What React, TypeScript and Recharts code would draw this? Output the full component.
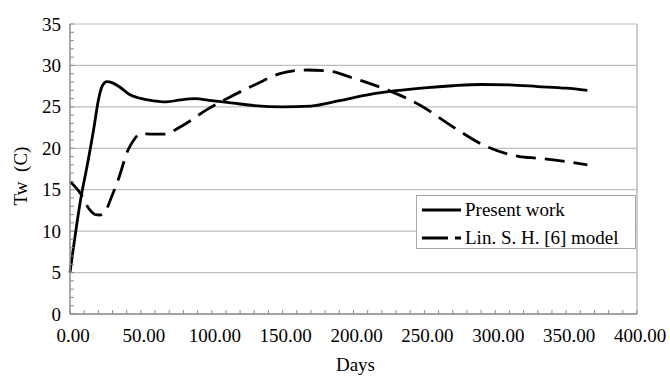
import React from "react";
import { LineChart, Line, XAxis, YAxis, ReferenceLine } from "recharts";

// Present work
const presentDays = [0, 8, 12, 17, 20, 23, 26, 30, 35, 42, 48, 55, 68, 78, 88, 100, 115, 130, 150, 170, 190, 210, 230, 250, 270, 290, 310, 330, 350, 365];
const presentTw = [5, 14.3, 17.8, 22.6, 25.8, 27.6, 28.05, 27.9, 27.4, 26.5, 26.1, 25.85, 25.6, 25.85, 26.0, 25.75, 25.45, 25.15, 25.0, 25.1, 25.75, 26.45, 26.95, 27.3, 27.55, 27.7, 27.65, 27.45, 27.25, 27.0];

// Lin. S. H. [6] model
const linDays = [0, 8, 13, 18, 21, 25, 29, 34, 41, 45, 50, 58, 66, 78, 96, 113, 132, 148, 167, 183, 200, 223, 247, 270, 294, 317, 330, 350, 365];
const linTw = [16, 14.4, 12.8, 12.0, 11.95, 12.4, 14.0, 16.2, 19.8, 21.0, 21.8, 21.7, 21.7, 22.6, 24.6, 26.2, 27.8, 29.0, 29.45, 29.3, 28.45, 27.1, 25.2, 22.6, 20.2, 19.0, 18.8, 18.4, 18.0];

const seriesNames = ["Present work", "Lin. S. H. [6] model"];

const xMinor = Array.from({ length: 41 }, (_, i) => i * 10);
const yMajor = [0, 5, 10, 15, 20, 25, 30, 35];
const yMinor = Array.from({ length: 36 }, (_, i) => i);

const present = presentDays.map((d, i) => ({ day: d, tw: presentTw[i] }));
const lin = linDays.map((d, i) => ({ day: d, tw: linTw[i] }));

const FONT = "'Liberation Serif', 'Times New Roman', serif";
const AXIS = "#8c8c8c";
const GRID = "#bdbdbd";

const XTick = (props: any) => {
  const { x, y, payload } = props;
  const v = payload.value;
  return (
    <g>
      <line x1={x} y1={y} x2={x} y2={y - 4} stroke={AXIS} strokeWidth={1} />
      {v % 50 === 0 && (
        <text x={x + 3} y={y + 28} textAnchor="middle" fontFamily={FONT} fontSize={19} fill="#000">
          {v.toFixed(2)}
        </text>
      )}
    </g>
  );
};

const YTick = (props: any) => {
  const { x, y, payload } = props;
  const v = payload.value;
  return (
    <g>
      <line x1={x} y1={y} x2={x + 4} y2={y} stroke={AXIS} strokeWidth={1} />
      {v % 5 === 0 && (
        <text x={x - 9} y={y + 6.5} textAnchor="end" fontFamily={FONT} fontSize={19} fill="#000">
          {v}
        </text>
      )}
    </g>
  );
};

export default function App() {
  return (
    <div style={{ position: "absolute", left: 0, top: 0, width: 670, height: 376, background: "#fff" }}>
      <LineChart width={670} height={376} margin={{ top: 24, right: 33, bottom: 0, left: 0 }}>
        {yMajor.map((v) => (
          <ReferenceLine key={v} y={v} stroke={GRID} strokeWidth={1.2} />
        ))}
        <ReferenceLine x={400} stroke={GRID} strokeWidth={1.5} />
        <XAxis
          dataKey="day"
          type="number"
          domain={[0, 400]}
          ticks={xMinor}
          interval={0}
          allowDuplicatedCategory={false}
          height={62}
          tickLine={false}
          tickSize={0}
          tickMargin={0}
          stroke={AXIS}
          strokeWidth={1.5}
          tick={<XTick />}
          label={(p: any) => (
            <text
              x={p.viewBox.x + p.viewBox.width / 2 + 2}
              y={371}
              textAnchor="middle"
              fontFamily={FONT}
              fontSize={19}
            >
              Days
            </text>
          )}
        />
        <YAxis
          type="number"
          domain={[0, 35]}
          ticks={yMinor}
          interval={0}
          width={70}
          tickLine={false}
          tickSize={0}
          tickMargin={0}
          stroke={AXIS}
          strokeWidth={1.5}
          tick={<YTick />}
          label={() => {
            const cy = 24 + 290 / 2 + 7;
            return (
              <text
                x={20}
                y={cy}
                transform={`rotate(-90 20 ${cy})`}
                textAnchor="middle"
                dominantBaseline="central"
                fontFamily={FONT}
                fontSize={19}
                style={{ whiteSpace: "pre" }}
              >
                {"Tw  (C)"}
              </text>
            );
          }}
        />
        <Line
          data={present}
          dataKey="tw"
          name={seriesNames[0]}
          type="monotone"
          stroke="#000"
          strokeWidth={2.8}
          dot={false}
          isAnimationActive={false}
        />
        <Line
          data={lin}
          dataKey="tw"
          name={seriesNames[1]}
          type="monotone"
          stroke="#000"
          strokeWidth={2.8}
          strokeDasharray="20 9"
          dot={false}
          isAnimationActive={false}
        />
      </LineChart>
      <div
        style={{
          position: "absolute",
          left: 416,
          top: 195,
          width: 220,
          height: 54,
          border: "1px solid #a8a8a8",
          background: "#fff",
          fontFamily: FONT,
          fontSize: 19,
          boxSizing: "border-box",
        }}
      >
        {seriesNames.map((name, i) => (
          <div key={name} style={{ position: "absolute", left: 5, top: i === 0 ? 2 : 30, height: 24, display: "flex", alignItems: "center", whiteSpace: "nowrap" }}>
            <svg width={40} height={6} style={{ marginRight: 3 }}>
              <line x1={0} y1={3} x2={39} y2={3} stroke="#000" strokeWidth={2.8} strokeDasharray={i === 1 ? "26 7" : undefined} />
            </svg>
            <span>{name}</span>
          </div>
        ))}
      </div>
    </div>
  );
}
